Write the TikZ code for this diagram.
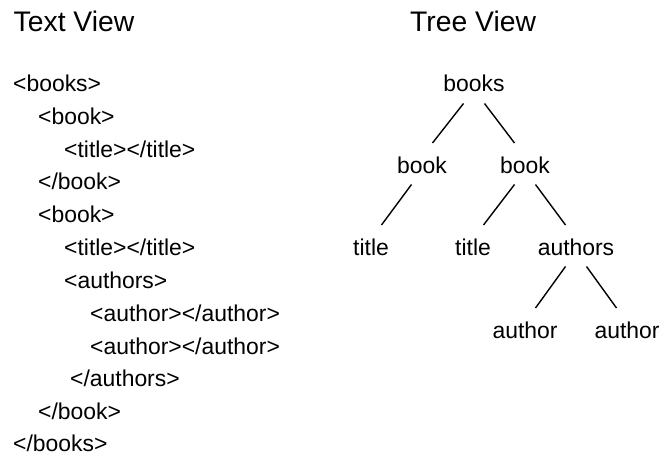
\documentclass[tikz,border=0pt]{standalone}
\usepackage{fontspec}
\setmainfont{Liberation Sans}
\begin{document}
\begin{tikzpicture}[x=1pt,y=1pt,
  heading/.style={anchor=base west,inner sep=0pt,font=\fontsize{28.3}{32}\selectfont},
  codeline/.style={anchor=base west,inner sep=0pt,font=\fontsize{22.9}{27}\selectfont},
  treenode/.style={anchor=base,inner sep=0pt,font=\fontsize{22.9}{27}\selectfont},
  branch/.style={line width=1.4pt}]
\useasboundingbox (0,0) rectangle (661,456);

% headings
\node[heading] (hText) at (13.5,424) {Text View};
\node[heading] (hTree) at (410,424) {Tree View};

% XML source, one element per line
\node[codeline] (l1)  at (13,364)  {<books>};
\node[codeline] (l2)  at (38,331)  {<book>};
\node[codeline] (l3)  at (64,298.5)  {<title></title>};
\node[codeline] (l4)  at (38,266)  {</book>};
\node[codeline] (l5)  at (38,233.5)  {<book>};
\node[codeline] (l6)  at (64,201)  {<title></title>};
\node[codeline] (l7)  at (64,168)  {<authors>};
\node[codeline] (l8)  at (90,135)  {<author></author>};
\node[codeline] (l9)  at (90,102)  {<author></author>};
\node[codeline] (l10) at (70,70)   {</authors>};
\node[codeline] (l11) at (38,37)   {</book>};
\node[codeline] (l12) at (13,4.5)    {</books>};

% element tree
\node[treenode] (books)   at (474,364) {books};
\node[treenode] (bookL)   at (422,283) {book};
\node[treenode] (bookR)   at (525,283) {book};
\node[treenode] (titleL)  at (371,201) {title};
\node[treenode] (titleM)  at (473,201) {title};
\node[treenode] (authors) at (576,201) {authors};
\node[treenode] (authL)   at (525,118) {author};
\node[treenode] (authR)   at (627,118) {author};

% branches: from below the parent to above the child
\draw[branch] ([shift={(-10.5,-11.5)}]books.base)   -- ([shift={(10.5,30)}]bookL.base);
\draw[branch] ([shift={(10.5,-11.5)}]books.base)    -- ([shift={(-10.5,30)}]bookR.base);
\draw[branch] ([shift={(-10.5,-11.5)}]bookL.base)   -- ([shift={(10.5,30)}]titleL.base);
\draw[branch] ([shift={(-10.5,-11.5)}]bookR.base)   -- ([shift={(10.5,30)}]titleM.base);
\draw[branch] ([shift={(10.5,-11.5)}]bookR.base)    -- ([shift={(-10.5,30)}]authors.base);
\draw[branch] ([shift={(-10.5,-11.5)}]authors.base) -- ([shift={(10.5,30)}]authL.base);
\draw[branch] ([shift={(10.5,-11.5)}]authors.base)  -- ([shift={(-10.5,30)}]authR.base);
\end{tikzpicture}
\end{document}
